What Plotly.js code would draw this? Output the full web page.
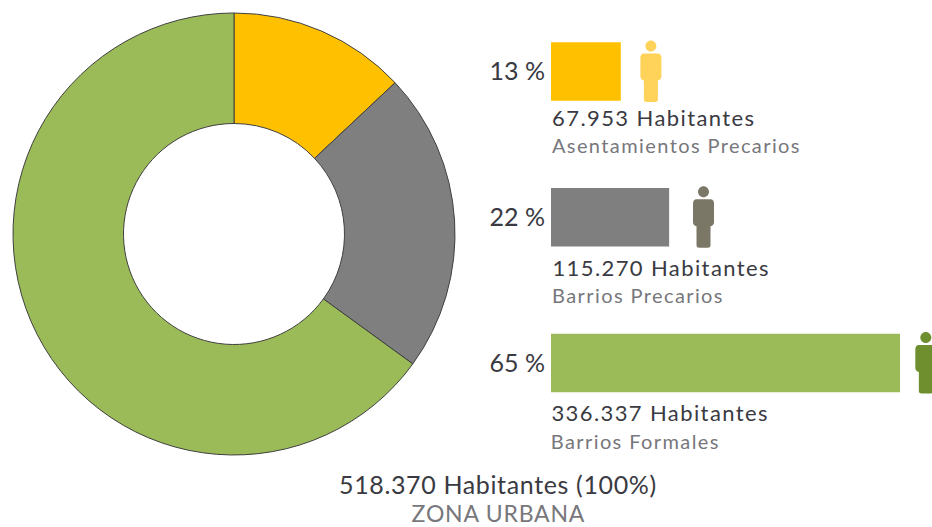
<!DOCTYPE html>
<html><head><meta charset="utf-8">
<script src="https://cdn.plot.ly/plotly-3.0.1.min.js"></script>
<style>html,body{margin:0;padding:0;background:#fff}#c{width:932px;height:527px}
.annotation .annotation-text{letter-spacing:1.4px}
.annotation[data-index="6"] .annotation-text{letter-spacing:0.64px}
.annotation[data-index="7"] .annotation-text{letter-spacing:0.8px}
</style>
</head><body><div id="c"></div><script>
var categories=['Asentamientos Precarios','Barrios Precarios','Barrios Formales'];
var percents=[13,22,65];
var percentLabels=['13 %','22 %','65 %'];
var inhabitants=['67.953 Habitantes','115.270 Habitantes','336.337 Habitantes'];
var totalLabel='518.370 Habitantes (100%)';
var zoneLabel='ZONA URBANA';
var colors=['#FFC000','#7F7F7F','#9BBB59'];
var iconColors=['#FFD35A','#7B7766','#6F8F2E'];

var W=932,H=527,FONT='Lato, "Open Sans", sans-serif';
function px(x){return x/W} function py(y){return 1-y/H}
var iconOffset=[5.6,6.4,4.8];
var line1X=[561.5,563,562], line2X=[566,562,560], line1Y=[118,267.5,412.5], line2Y=[145,295,440.5];

// person pictogram, pixel offsets from its anchor (y grows upward)
var iconPath='M 0 31 C 3 31 5.5 28.5 5.5 25.5 C 5.5 22.5 3 20 0 20 C -3 20 -5.5 22.5 -5.5 25.5 C -5.5 28.5 -3 31 0 31 Z '+
 'M -7 18 L 7 18 Q 10.5 18 10.5 13.5 L 10.5 -5 Q 10.5 -8 7 -9 L 7 -28 Q 7 -30.5 4 -30.5 L -4 -30.5 Q -7 -30.5 -7 -28 L -7 -9 Q -10.5 -8 -10.5 -5 L -10.5 13.5 Q -10.5 18 -7 18 Z';

var shapes=percents.map(function(p,i){return {
  type:'path',xref:'x',yref:'y',xsizemode:'pixel',ysizemode:'pixel',
  xanchor:p+iconOffset[i],yanchor:i,path:iconPath,fillcolor:iconColors[i],line:{width:0},layer:'above'
};});

var annotations=[];
categories.forEach(function(c,i){
  annotations.push({xref:'paper',yref:'paper',x:px(line1X[i]),y:py(line1Y[i]),xanchor:'left',yanchor:'middle',showarrow:false,
    text:inhabitants[i],font:{family:FONT,size:22,color:'#3a3a42'}});
  annotations.push({xref:'paper',yref:'paper',x:px(line2X[i]),y:py(line2Y[i]),xanchor:'left',yanchor:'middle',showarrow:false,
    text:c,font:{family:FONT,size:20,color:'#77777c'}});
});
annotations.push({xref:'paper',yref:'paper',x:px(498),y:py(484),xanchor:'center',yanchor:'middle',showarrow:false,
  text:totalLabel,font:{family:FONT,size:25,color:'#3a3a42'}});
annotations.push({xref:'paper',yref:'paper',x:px(498),y:py(513),xanchor:'center',yanchor:'middle',showarrow:false,
  text:zoneLabel,font:{family:FONT,size:23,color:'#77777c'}});

var pie={type:'pie',labels:categories,values:percents,sort:false,direction:'clockwise',rotation:0,hole:0.5,
  marker:{colors:colors,line:{color:'#3f3f3f',width:1}},textinfo:'none',showlegend:false,hoverinfo:'label+percent',
  domain:{x:[px(13),px(455)],y:[py(455),py(13)]}};
var bars={type:'bar',orientation:'h',y:[0,1,2],x:percents,width:0.4,marker:{color:colors,line:{width:0}},
  showlegend:false,hoverinfo:'x',xaxis:'x',yaxis:'y'};

var layout={width:W,height:H,margin:{l:0,r:0,t:0,b:0},paper_bgcolor:'#fff',plot_bgcolor:'rgba(0,0,0,0)',
  font:{family:FONT},
  xaxis:{domain:[px(551),1],range:[0,381/5.37],visible:false,fixedrange:true},
  yaxis:{domain:[0,1],range:[3.125,-0.4906],tickmode:'array',tickvals:[0,1,2],ticktext:percentLabels,
    showgrid:false,zeroline:false,showline:false,ticks:'',ticklabelstandoff:5,anchor:'x',
    tickfont:{family:FONT,size:25,color:'#3a3a42'},fixedrange:true},
  shapes:shapes,annotations:annotations};
Plotly.newPlot('c',[bars,pie],layout,{displayModeBar:false,staticPlot:true});
</script></body></html>
